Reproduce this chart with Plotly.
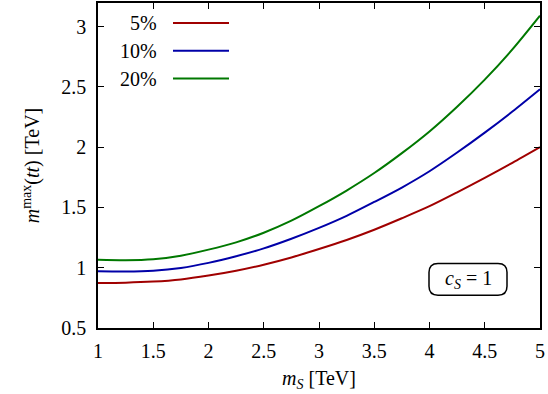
import plotly.graph_objects as go
import re

# Data
m_s = [1.0, 1.25, 1.5, 1.75, 2.0, 2.25, 2.5, 2.75, 3.0, 3.25, 3.5, 3.75, 4.0, 4.25, 4.5, 4.75, 5.0]
m_max_5 = [0.873, 0.876, 0.885, 0.903, 0.935, 0.975, 1.025, 1.085, 1.155, 1.23, 1.315, 1.41, 1.51, 1.625, 1.745, 1.87, 2.0]
m_max_10 = [0.97, 0.968, 0.975, 0.998, 1.04, 1.095, 1.16, 1.24, 1.33, 1.43, 1.545, 1.665, 1.80, 1.955, 2.12, 2.295, 2.48]
m_max_20 = [1.066, 1.062, 1.07, 1.10, 1.15, 1.21, 1.29, 1.39, 1.51, 1.64, 1.785, 1.95, 2.13, 2.335, 2.56, 2.81, 3.09]
labels = ["5%", "10%", "20%"]
colors = ["#a00000", "#0000a8", "#007800"]
series = [m_max_5, m_max_10, m_max_20]

font_family = "Times New Roman, Liberation Serif, serif"
FS = 20
fig = go.Figure()
for lab, col, ys in zip(labels, colors, series):
    fig.add_trace(go.Scatter(x=m_s, y=ys, mode="lines", name=lab,
                             line=dict(color=col, width=2, shape="spline", smoothing=0.8),
                             showlegend=False))

L, R, T, B = 98, 540, 1, 328
W, H = R - L, B - T
def px(x):
    return (x - L) / W
def py(y):
    return (B - y) / H

leg_y = [21, 49, 77]
for lab, col, yy in zip(labels, colors, leg_y):
    fig.add_annotation(x=px(159), y=py(yy), xref="paper", yref="paper", text=lab,
                       showarrow=False, xanchor="right", yanchor="middle",
                       font=dict(family=font_family, size=FS, color="black"))
    fig.add_shape(type="line", xref="paper", yref="paper",
                  x0=px(173), x1=px(229), y0=py(yy), y1=py(yy),
                  line=dict(color=col, width=2))

# rounded box c_S = 1
x0, x1, y0, y1, r = 429, 507, 263, 295, 9
path = (f"M {x0+r},{y0} L {x1-r},{y0} Q {x1},{y0} {x1},{y0+r} L {x1},{y1-r} "
        f"Q {x1},{y1} {x1-r},{y1} L {x0+r},{y1} Q {x0},{y1} {x0},{y1-r} "
        f"L {x0},{y0+r} Q {x0},{y0} {x0+r},{y0} Z")
def conv(match):
    a, b = float(match.group(1)), float(match.group(2))
    return f"{px(a):.5f},{py(b):.5f}"
path_paper = re.sub(r"([\d.]+),([\d.]+)", conv, path)
fig.add_shape(type="path", xref="paper", yref="paper", path=path_paper,
              line=dict(color="black", width=1.5))
fig.add_annotation(x=px(468), y=py(279), xref="paper", yref="paper",
                   text="<i>c<sub>S</sub></i> = 1", showarrow=False,
                   xanchor="center", yanchor="middle",
                   font=dict(family=font_family, size=FS, color="black"))

axis_common = dict(showline=True, linecolor="black", linewidth=1.5, mirror="ticks",
                   ticks="inside", ticklen=6, tickwidth=1, tickcolor="black",
                   showgrid=False, zeroline=False,
                   tickfont=dict(family=font_family, size=FS, color="black"))
fig.update_xaxes(range=[1, 5], dtick=0.5, tick0=1, ticklabelstandoff=4,
                 title=dict(text="<i>m<sub>S</sub></i> [TeV]",
                            font=dict(family=font_family, size=FS, color="black"),
                            standoff=10),
                 **axis_common)
fig.update_yaxes(range=[0.5, 3.195], dtick=0.5, tick0=0.5, ticklabelstandoff=6,
                 title=dict(text="<i>m</i><sup>max</sup>(<i>tt</i>) [TeV]",
                            font=dict(family=font_family, size=FS, color="black"),
                            standoff=16),
                 **axis_common)
fig.update_layout(width=548, height=394, margin=dict(l=L, r=548 - R, t=T, b=394 - B),
                  plot_bgcolor="white", paper_bgcolor="white")
fig.write_html("out.html")
